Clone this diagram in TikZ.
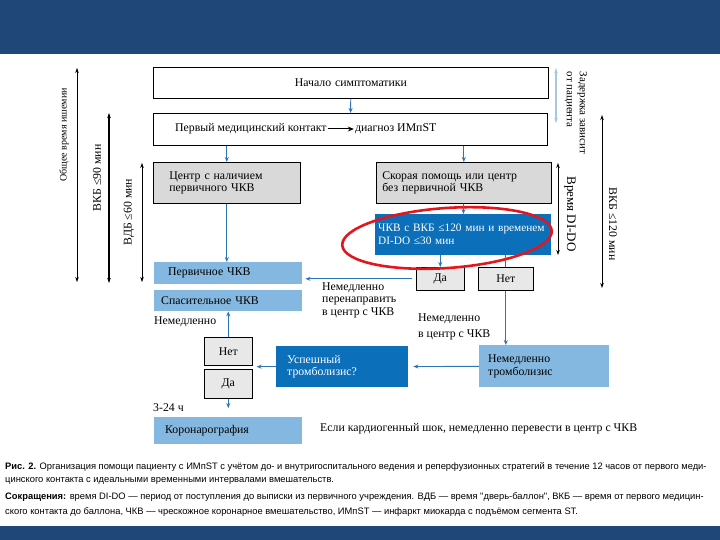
\documentclass[tikz,border=0pt]{standalone}
\usepackage{fontspec}
\setmainfont{Liberation Serif}
\newfontfamily\capfont{Liberation Sans}
\usetikzlibrary{arrows.meta,positioning}
\definecolor{bandblue}{HTML}{1F4778}
\definecolor{midblue}{HTML}{0B6FBA}
\definecolor{lightblue}{HTML}{85B8E0}
\definecolor{boxgray}{HTML}{D9D9D9}
\definecolor{choicegray}{HTML}{E8E8E8}
\definecolor{flowblue}{HTML}{2E75B6}
\definecolor{delayblue}{HTML}{A7C7E7}
\definecolor{ringred}{HTML}{E3161D}
\begin{document}
\begin{tikzpicture}[
  x=1pt, y=-1pt,
  font=\fontsize{11.8}{12.6}\selectfont,
  box/.style={anchor=north west, inner ysep=0pt, align=left},
  whitebox/.style={box, draw, fill=white, line width=0.8pt},
  graybox/.style={box, draw, fill=boxgray, line width=0.6pt},
  bluebox/.style={box, fill=midblue, text=white},
  lightbox/.style={box, fill=lightblue},
  choice/.style={box, draw, fill=choicegray, align=center, inner xsep=0pt, line width=0.6pt},
  note/.style={anchor=west, align=left, inner sep=0pt},
  flow/.style={-{Stealth[length=5pt,width=4pt]}, flowblue, line width=0.9pt},
  span/.style={{Stealth[length=5pt,width=3.5pt]}-{Stealth[length=5pt,width=3.5pt]}, line width=0.5pt},
  caption/.style={anchor=west, inner sep=0pt, font=\capfont\fontsize{9.35}{10}\selectfont}
]
\useasboundingbox (0,0) rectangle (720,540);
\fill[bandblue] (0,0) rectangle (720,54);
\fill[bandblue] (0,526) rectangle (720,540);

% pre-hospital part
\node[whitebox, align=center, text width=395pt, inner xsep=0pt, minimum height=31pt] (onset) at (153,67) {Начало симптоматики};
\node[whitebox, minimum width=394pt, minimum height=32pt, inner sep=0pt] (fmc) at (153,113) {};
\node[anchor=west, inner sep=1pt] (fmcA) at (174,129) {Первый медицинский контакт};
\node[right=26pt of fmcA, inner sep=1pt] (fmcB) {диагноз ИМпST};
\node[graybox, text width=115pt, inner xsep=16pt, minimum height=41pt] (pciC) at (153,162) {Центр с наличием\\первичного ЧКВ};
\node[graybox, text width=163pt, inner xsep=6pt, minimum height=41pt] (ems) at (376,162) {Скорая помощь или центр\\без первичной ЧКВ};
\node[bluebox, text width=170pt, inner xsep=3pt, minimum height=41pt, font=\fontsize{11.3}{13}\selectfont] (crit) at (375,214) {ЧКВ с ВКБ ≤120 мин и временем\\DI-DO ≤30 мин};
\node[choice, text width=48pt, minimum height=23pt] (yes1) at (416,267) {Да};
\node[choice, text width=55pt, minimum height=23pt] (no1) at (478,267) {Нет};

% reperfusion part
\node[lightbox, text width=120pt, inner xsep=14pt, minimum height=22pt] (ppci) at (154,262) {Первичное ЧКВ};
\node[lightbox, text width=134pt, inner xsep=7pt, minimum height=21pt] (rescue) at (154,290) {Спасительное ЧКВ};
\node[choice, text width=48pt, minimum height=28pt] (no2) at (204,337) {Нет};
\node[choice, text width=48pt, minimum height=29pt] (yes2) at (204,369) {Да};
\node[lightbox, text width=126pt, inner xsep=11pt, minimum height=27pt] (cag) at (154,417) {Коронарография};
\node[bluebox, text width=110pt, inner xsep=11pt, minimum height=41pt] (succ) at (276,346) {Успешный\\тромболизис?};
\node[lightbox, text width=112pt, inner xsep=9pt, minimum height=42pt] (lysis) at (479,345) {Немедленно\\тромболизис};

\node[note] (redirect) at (322,300) {Немедленно\\перенаправить\\в центр с ЧКВ};
\node[note] (nowLeft) at (154,322) {Немедленно};
\node[note, font=\fontsize{11.8}{16}\selectfont] (nowRight) at (418,327) {Немедленно\\в центр с ЧКВ};
\node[note] (window) at (153,408) {3-24 ч};
\node[note] (shock) at (320,429) {Если кардиогенный шок, немедленно перевести в центр с ЧКВ};

\draw[ringred, line width=2.6pt, rotate around={4:(447,238)}] (447,238) ellipse [x radius=105, y radius=30];

\draw[-{Stealth[length=6pt,width=5pt]}, line width=1pt] (fmcA) -- (fmcB);
\draw[flow] (onset) -- (fmc);
\draw[flow] (fmc.south -| pciC) -- (pciC);
\draw[flow] (fmc.south -| ems) -- (ems);
\draw[flow] (ems) -- (crit);
\draw[flow] (crit.south -| yes1) -- (yes1);
\draw[flowblue, line width=0.9pt] (crit.south -| no1) -- (no1);
\draw[flow] (no1) -- (no1 |- lysis.north);
\draw[flow, shorten <=4pt, shorten >=3pt] (yes1) -- (yes1 -| ppci.east);
\draw[flow] (pciC) -- (pciC |- ppci.north);
\draw[flow] (no2) -- (no2 |- rescue.south);
\draw[flow, shorten >=9pt] (yes2) -- (yes2 |- cag.north);
\draw[flow, shorten >=4pt] (succ) -- (succ -| no2.east);
\draw[flow, shorten >=5pt] (lysis) -- (succ);

% time spans
\coordinate (totTop) at (77,68);   \coordinate (totBot) at (77,282);
\coordinate (fmcbTop) at (109,113); \coordinate (fmcbBot) at (109,283);
\coordinate (dtbTop) at (142,163);  \coordinate (dtbBot) at (142,282);
\coordinate (delayTop) at (556,68); \coordinate (delayBot) at (556,123);
\coordinate (didoTop) at (558,163); \coordinate (didoBot) at (558,255);
\coordinate (fmcbRTop) at (602,115); \coordinate (fmcbRBot) at (602,288);
\draw[span] (totTop) -- (totBot);
\draw[span, line width=1.2pt] (fmcbTop) -- (fmcbBot);
\draw[span] (dtbTop) -- (dtbBot);
\draw[span, delayblue, line width=1.4pt] (delayTop) -- (delayBot);
\draw[span, line width=0.9pt] (didoTop) -- (didoBot);
\draw[span, line width=0.9pt] (fmcbRTop) -- (fmcbRBot);
\node[rotate=90, font=\fontsize{10}{12}\selectfont] (totLbl) at (64,135) {Общее время ишемии};
\node[rotate=90] (fmcbLbl) at (97,178) {ВКБ ≤90 мин};
\node[rotate=90] (dtbLbl) at (129,212) {ВДБ ≤60 мин};
\node[rotate=-90, align=left, font=\fontsize{11}{13}\selectfont] (delayLbl) at (576,113) {Задержка зависит\\от пациента};
\node[rotate=-90, font=\fontsize{13}{15}\selectfont] (didoLbl) at (570,214) {Время DI-DO};
\node[rotate=-90] (fmcbRLbl) at (613,224) {ВКБ ≤120 мин};

% caption
\node[caption] (cap1) at (5,467) {{\bfseries Рис. 2.} Организация помощи пациенту с ИМпST с учётом до- и внутригоспитального ведения и реперфузионных стратегий в течение 12 часов от первого меди-};
\node[caption] (cap2) at (5,481) {цинского контакта с идеальными временными интервалами вмешательств.};
\node[caption] (cap3) at (5,497) {{\bfseries Сокращения:} время DI-DO — период от поступления до выписки из первичного учреждения. ВДБ — время "дверь-баллон", ВКБ — время от первого медицин-};
\node[caption] (cap4) at (5,512) {ского контакта до баллона, ЧКВ — чрескожное коронарное вмешательство, ИМпST — инфаркт миокарда с подъёмом сегмента ST.};
\end{tikzpicture}
\end{document}
